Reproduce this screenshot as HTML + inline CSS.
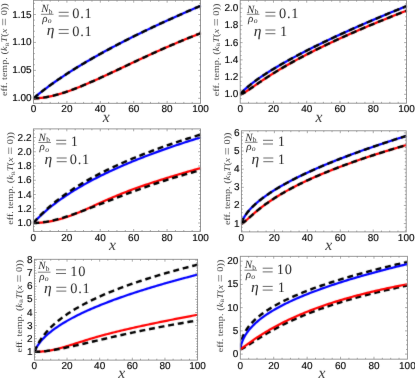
<!DOCTYPE html>
<html><head><meta charset="utf-8"><title>chart</title>
<style>html,body{margin:0;padding:0;background:#fff}svg{display:block}</style>
</head><body>
<svg width="415" height="378" viewBox="0 0 415 378">
<defs><filter id="softc" x="0" y="0" width="415" height="378" filterUnits="userSpaceOnUse" color-interpolation-filters="sRGB"><feConvolveMatrix order="3" kernelMatrix="0.0183 0.1353 0.0183 0.1353 1 0.1353 0.0183 0.1353 0.0183" edgeMode="duplicate"/></filter><filter id="softt" x="0" y="0" width="415" height="378" filterUnits="userSpaceOnUse" color-interpolation-filters="sRGB"><feConvolveMatrix order="3" kernelMatrix="0.0019 0.0439 0.0019 0.0439 1 0.0439 0.0019 0.0439 0.0019" edgeMode="duplicate"/></filter></defs>
<rect width="415" height="378" fill="#fff"/>
<g filter="url(#softc)">
<clipPath id="c1"><rect x="33.5" y="0.3" width="167.45" height="103"/></clipPath>
<g clip-path="url(#c1)" fill="none" stroke-linejoin="round">
<polyline points="33.50,98.30 33.83,98.02 34.17,97.73 34.50,97.45 34.84,97.17 35.17,96.89 35.50,96.61 35.84,96.33 36.17,96.06 36.51,95.78 36.84,95.51 37.68,94.83 39.07,93.70 40.46,92.60 41.85,91.50 43.24,90.43 44.64,89.36 46.03,88.31 47.42,87.27 48.81,86.24 50.20,85.23 51.60,84.22 52.99,83.23 54.38,82.25 55.77,81.27 57.17,80.31 58.56,79.35 59.95,78.41 61.34,77.47 62.73,76.54 64.13,75.62 65.52,74.71 66.91,73.80 68.30,72.90 69.69,72.01 71.09,71.13 72.48,70.25 73.87,69.38 75.26,68.51 76.65,67.65 78.05,66.80 79.44,65.95 80.83,65.11 82.22,64.28 83.62,63.45 85.01,62.62 86.40,61.80 87.79,60.99 89.18,60.18 90.58,59.37 91.97,58.57 93.36,57.78 94.75,56.99 96.14,56.20 97.54,55.42 98.93,54.64 100.32,53.87 101.71,53.10 103.10,52.33 104.50,51.57 105.89,50.82 107.28,50.06 108.67,49.31 110.06,48.57 111.46,47.83 112.85,47.09 114.24,46.35 115.63,45.62 117.03,44.89 118.42,44.17 119.81,43.44 121.20,42.72 122.59,42.01 123.99,41.30 125.38,40.59 126.77,39.88 128.16,39.18 129.55,38.48 130.95,37.78 132.34,37.09 133.73,36.39 135.12,35.70 136.51,35.02 137.91,34.33 139.30,33.65 140.69,32.97 142.08,32.30 143.47,31.63 144.87,30.95 146.26,30.29 147.65,29.62 149.04,28.96 150.44,28.29 151.83,27.64 153.22,26.98 154.61,26.33 156.00,25.67 157.40,25.02 158.79,24.38 160.18,23.73 161.57,23.09 162.96,22.45 164.36,21.81 165.75,21.17 167.14,20.53 168.53,19.90 169.92,19.27 171.32,18.64 172.71,18.01 174.10,17.39 175.49,16.77 176.88,16.14 178.28,15.52 179.67,14.91 181.06,14.29 182.45,13.68 183.84,13.07 185.24,12.45 186.63,11.85 188.02,11.24 189.41,10.63 190.81,10.03 192.20,9.43 193.59,8.83 194.98,8.23 196.37,7.63 197.77,7.04 199.16,6.44 200.55,5.85" stroke="#0000ff" stroke-width="2.2"/>
<polyline points="33.50,98.30 33.83,98.30 34.17,98.30 34.50,98.29 34.84,98.29 35.17,98.28 35.50,98.27 35.84,98.26 36.17,98.24 36.51,98.23 36.84,98.21 37.68,98.17 39.07,98.07 40.46,97.94 41.85,97.79 43.24,97.61 44.64,97.41 46.03,97.18 47.42,96.94 48.81,96.67 50.20,96.39 51.60,96.08 52.99,95.76 54.38,95.42 55.77,95.06 57.17,94.68 58.56,94.29 59.95,93.89 61.34,93.47 62.73,93.03 64.13,92.59 65.52,92.13 66.91,91.66 68.30,91.17 69.69,90.68 71.09,90.17 72.48,89.66 73.87,89.13 75.26,88.60 76.65,88.06 78.05,87.51 79.44,86.95 80.83,86.38 82.22,85.81 83.62,85.23 85.01,84.64 86.40,84.05 87.79,83.45 89.18,82.85 90.58,82.24 91.97,81.63 93.36,81.01 94.75,80.39 96.14,79.77 97.54,79.14 98.93,78.51 100.32,77.87 101.71,77.23 103.10,76.59 104.50,75.95 105.89,75.30 107.28,74.66 108.67,74.01 110.06,73.36 111.46,72.70 112.85,72.05 114.24,71.40 115.63,70.74 117.03,70.09 118.42,69.43 119.81,68.77 121.20,68.11 122.59,67.46 123.99,66.80 125.38,66.14 126.77,65.49 128.16,64.83 129.55,64.17 130.95,63.52 132.34,62.86 133.73,62.21 135.12,61.56 136.51,60.91 137.91,60.26 139.30,59.61 140.69,58.96 142.08,58.31 143.47,57.67 144.87,57.03 146.26,56.39 147.65,55.75 149.04,55.11 150.44,54.47 151.83,53.84 153.22,53.21 154.61,52.58 156.00,51.95 157.40,51.32 158.79,50.70 160.18,50.08 161.57,49.46 162.96,48.84 164.36,48.23 165.75,47.62 167.14,47.01 168.53,46.40 169.92,45.80 171.32,45.20 172.71,44.60 174.10,44.01 175.49,43.41 176.88,42.82 178.28,42.23 179.67,41.65 181.06,41.07 182.45,40.49 183.84,39.91 185.24,39.34 186.63,38.77 188.02,38.20 189.41,37.64 190.81,37.08 192.20,36.52 193.59,35.96 194.98,35.41 196.37,34.86 197.77,34.31 199.16,33.77 200.55,33.23" stroke="#ff0000" stroke-width="2.2"/>
<polyline points="33.50,98.30 33.83,98.02 34.17,97.73 34.50,97.45 34.84,97.17 35.17,96.89 35.50,96.61 35.84,96.33 36.17,96.06 36.51,95.78 36.84,95.51 37.68,94.83 39.07,93.70 40.46,92.60 41.85,91.50 43.24,90.43 44.64,89.36 46.03,88.31 47.42,87.27 48.81,86.24 50.20,85.23 51.60,84.22 52.99,83.23 54.38,82.25 55.77,81.27 57.17,80.31 58.56,79.35 59.95,78.41 61.34,77.47 62.73,76.54 64.13,75.62 65.52,74.71 66.91,73.80 68.30,72.90 69.69,72.01 71.09,71.13 72.48,70.25 73.87,69.38 75.26,68.51 76.65,67.65 78.05,66.80 79.44,65.95 80.83,65.11 82.22,64.28 83.62,63.45 85.01,62.62 86.40,61.80 87.79,60.99 89.18,60.18 90.58,59.37 91.97,58.57 93.36,57.78 94.75,56.99 96.14,56.20 97.54,55.42 98.93,54.64 100.32,53.87 101.71,53.10 103.10,52.33 104.50,51.57 105.89,50.82 107.28,50.06 108.67,49.31 110.06,48.57 111.46,47.83 112.85,47.09 114.24,46.35 115.63,45.62 117.03,44.89 118.42,44.17 119.81,43.44 121.20,42.72 122.59,42.01 123.99,41.30 125.38,40.59 126.77,39.88 128.16,39.18 129.55,38.48 130.95,37.78 132.34,37.09 133.73,36.39 135.12,35.70 136.51,35.02 137.91,34.33 139.30,33.65 140.69,32.97 142.08,32.30 143.47,31.63 144.87,30.95 146.26,30.29 147.65,29.62 149.04,28.96 150.44,28.29 151.83,27.64 153.22,26.98 154.61,26.33 156.00,25.67 157.40,25.02 158.79,24.38 160.18,23.73 161.57,23.09 162.96,22.45 164.36,21.81 165.75,21.17 167.14,20.53 168.53,19.90 169.92,19.27 171.32,18.64 172.71,18.01 174.10,17.39 175.49,16.77 176.88,16.14 178.28,15.52 179.67,14.91 181.06,14.29 182.45,13.68 183.84,13.07 185.24,12.45 186.63,11.85 188.02,11.24 189.41,10.63 190.81,10.03 192.20,9.43 193.59,8.83 194.98,8.23 196.37,7.63 197.77,7.04 199.16,6.44 200.55,5.85" stroke="#000" stroke-width="2.45" stroke-dasharray="5.9 3.85" stroke-dashoffset="0"/>
<polyline points="33.50,98.30 33.83,98.30 34.17,98.30 34.50,98.29 34.84,98.29 35.17,98.28 35.50,98.27 35.84,98.26 36.17,98.24 36.51,98.23 36.84,98.21 37.68,98.17 39.07,98.07 40.46,97.94 41.85,97.79 43.24,97.61 44.64,97.41 46.03,97.18 47.42,96.94 48.81,96.67 50.20,96.39 51.60,96.08 52.99,95.76 54.38,95.42 55.77,95.06 57.17,94.68 58.56,94.29 59.95,93.89 61.34,93.47 62.73,93.03 64.13,92.59 65.52,92.13 66.91,91.66 68.30,91.17 69.69,90.68 71.09,90.17 72.48,89.66 73.87,89.13 75.26,88.60 76.65,88.06 78.05,87.51 79.44,86.95 80.83,86.38 82.22,85.81 83.62,85.23 85.01,84.64 86.40,84.05 87.79,83.45 89.18,82.85 90.58,82.24 91.97,81.63 93.36,81.01 94.75,80.39 96.14,79.77 97.54,79.14 98.93,78.51 100.32,77.87 101.71,77.23 103.10,76.59 104.50,75.95 105.89,75.30 107.28,74.66 108.67,74.01 110.06,73.36 111.46,72.70 112.85,72.05 114.24,71.40 115.63,70.74 117.03,70.09 118.42,69.43 119.81,68.77 121.20,68.11 122.59,67.46 123.99,66.80 125.38,66.14 126.77,65.49 128.16,64.83 129.55,64.17 130.95,63.52 132.34,62.86 133.73,62.21 135.12,61.56 136.51,60.91 137.91,60.26 139.30,59.61 140.69,58.96 142.08,58.31 143.47,57.67 144.87,57.03 146.26,56.39 147.65,55.75 149.04,55.11 150.44,54.47 151.83,53.84 153.22,53.21 154.61,52.58 156.00,51.95 157.40,51.32 158.79,50.70 160.18,50.08 161.57,49.46 162.96,48.84 164.36,48.23 165.75,47.62 167.14,47.01 168.53,46.40 169.92,45.80 171.32,45.20 172.71,44.60 174.10,44.01 175.49,43.41 176.88,42.82 178.28,42.23 179.67,41.65 181.06,41.07 182.45,40.49 183.84,39.91 185.24,39.34 186.63,38.77 188.02,38.20 189.41,37.64 190.81,37.08 192.20,36.52 193.59,35.96 194.98,35.41 196.37,34.86 197.77,34.31 199.16,33.77 200.55,33.23" stroke="#000" stroke-width="2.45" stroke-dasharray="5.9 3.85" stroke-dashoffset="0"/>
</g>
<clipPath id="c2"><rect x="240.2" y="0.3" width="166.7" height="102.9"/></clipPath>
<g clip-path="url(#c2)" fill="none" stroke-linejoin="round">
<polyline points="240.20,94.30 240.53,93.90 240.87,93.52 241.20,93.14 241.53,92.77 241.86,92.41 242.20,92.06 242.53,91.72 242.86,91.38 243.19,91.04 243.53,90.71 244.36,89.91 245.74,88.63 247.13,87.41 248.51,86.24 249.90,85.10 251.29,83.99 252.67,82.92 254.06,81.87 255.44,80.85 256.83,79.84 258.22,78.86 259.60,77.89 260.99,76.94 262.37,76.00 263.76,75.08 265.14,74.17 266.53,73.27 267.92,72.39 269.30,71.51 270.69,70.65 272.07,69.79 273.46,68.94 274.85,68.11 276.23,67.28 277.62,66.46 279.00,65.64 280.39,64.84 281.77,64.04 283.16,63.24 284.55,62.46 285.93,61.68 287.32,60.90 288.70,60.13 290.09,59.37 291.48,58.61 292.86,57.86 294.25,57.11 295.63,56.37 297.02,55.63 298.40,54.90 299.79,54.17 301.18,53.45 302.56,52.73 303.95,52.01 305.33,51.30 306.72,50.59 308.11,49.88 309.49,49.18 310.88,48.49 312.26,47.79 313.65,47.10 315.03,46.42 316.42,45.73 317.81,45.05 319.19,44.37 320.58,43.70 321.96,43.03 323.35,42.36 324.74,41.70 326.12,41.03 327.51,40.37 328.89,39.72 330.28,39.06 331.66,38.41 333.05,37.76 334.44,37.12 335.82,36.47 337.21,35.83 338.59,35.19 339.98,34.55 341.37,33.92 342.75,33.29 344.14,32.66 345.52,32.03 346.91,31.40 348.29,30.78 349.68,30.16 351.07,29.54 352.45,28.92 353.84,28.30 355.22,27.69 356.61,27.08 358.00,26.47 359.38,25.86 360.77,25.26 362.15,24.65 363.54,24.05 364.93,23.45 366.31,22.85 367.70,22.25 369.08,21.66 370.47,21.06 371.85,20.47 373.24,19.88 374.63,19.29 376.01,18.70 377.40,18.12 378.78,17.53 380.17,16.95 381.55,16.37 382.94,15.79 384.33,15.21 385.71,14.64 387.10,14.06 388.48,13.49 389.87,12.92 391.26,12.34 392.64,11.77 394.03,11.21 395.41,10.64 396.80,10.07 398.19,9.51 399.57,8.95 400.96,8.39 402.34,7.82 403.73,7.27 405.11,6.71 406.50,6.15" stroke="#0000ff" stroke-width="2.2"/>
<polyline points="240.20,94.30 240.53,94.27 240.87,94.21 241.20,94.12 241.53,94.02 241.86,93.90 242.20,93.76 242.53,93.62 242.86,93.46 243.19,93.30 243.53,93.13 244.36,92.67 245.74,91.83 247.13,90.94 248.51,90.02 249.90,89.07 251.29,88.11 252.67,87.14 254.06,86.17 255.44,85.20 256.83,84.24 258.22,83.28 259.60,82.33 260.99,81.39 262.37,80.45 263.76,79.53 265.14,78.61 266.53,77.70 267.92,76.80 269.30,75.91 270.69,75.02 272.07,74.15 273.46,73.28 274.85,72.42 276.23,71.57 277.62,70.73 279.00,69.89 280.39,69.07 281.77,68.25 283.16,67.43 284.55,66.62 285.93,65.82 287.32,65.03 288.70,64.24 290.09,63.46 291.48,62.69 292.86,61.92 294.25,61.15 295.63,60.40 297.02,59.64 298.40,58.90 299.79,58.15 301.18,57.42 302.56,56.68 303.95,55.96 305.33,55.23 306.72,54.52 308.11,53.80 309.49,53.09 310.88,52.39 312.26,51.69 313.65,50.99 315.03,50.30 316.42,49.61 317.81,48.93 319.19,48.25 320.58,47.57 321.96,46.89 323.35,46.22 324.74,45.56 326.12,44.89 327.51,44.24 328.89,43.58 330.28,42.93 331.66,42.28 333.05,41.63 334.44,40.98 335.82,40.34 337.21,39.71 338.59,39.07 339.98,38.44 341.37,37.81 342.75,37.18 344.14,36.56 345.52,35.94 346.91,35.32 348.29,34.70 349.68,34.09 351.07,33.48 352.45,32.87 353.84,32.26 355.22,31.66 356.61,31.06 358.00,30.46 359.38,29.86 360.77,29.26 362.15,28.67 363.54,28.08 364.93,27.49 366.31,26.91 367.70,26.32 369.08,25.74 370.47,25.16 371.85,24.58 373.24,24.01 374.63,23.43 376.01,22.86 377.40,22.29 378.78,21.72 380.17,21.15 381.55,20.59 382.94,20.03 384.33,19.47 385.71,18.91 387.10,18.35 388.48,17.79 389.87,17.24 391.26,16.68 392.64,16.13 394.03,15.58 395.41,15.04 396.80,14.49 398.19,13.94 399.57,13.40 400.96,12.86 402.34,12.32 403.73,11.78 405.11,11.24 406.50,10.71" stroke="#ff0000" stroke-width="2.2"/>
<polyline points="240.20,94.30 240.53,93.90 240.87,93.52 241.20,93.14 241.53,92.77 241.86,92.41 242.20,92.06 242.53,91.72 242.86,91.38 243.19,91.04 243.53,90.71 244.36,89.91 245.74,88.63 247.13,87.41 248.51,86.24 249.90,85.10 251.29,83.99 252.67,82.92 254.06,81.87 255.44,80.85 256.83,79.84 258.22,78.86 259.60,77.89 260.99,76.94 262.37,76.00 263.76,75.08 265.14,74.17 266.53,73.27 267.92,72.39 269.30,71.51 270.69,70.65 272.07,69.79 273.46,68.94 274.85,68.11 276.23,67.28 277.62,66.46 279.00,65.64 280.39,64.84 281.77,64.04 283.16,63.24 284.55,62.46 285.93,61.68 287.32,60.90 288.70,60.13 290.09,59.37 291.48,58.61 292.86,57.86 294.25,57.11 295.63,56.37 297.02,55.63 298.40,54.90 299.79,54.17 301.18,53.45 302.56,52.73 303.95,52.01 305.33,51.30 306.72,50.59 308.11,49.88 309.49,49.18 310.88,48.49 312.26,47.79 313.65,47.10 315.03,46.42 316.42,45.73 317.81,45.05 319.19,44.37 320.58,43.70 321.96,43.03 323.35,42.36 324.74,41.70 326.12,41.03 327.51,40.37 328.89,39.72 330.28,39.06 331.66,38.41 333.05,37.76 334.44,37.12 335.82,36.47 337.21,35.83 338.59,35.19 339.98,34.55 341.37,33.92 342.75,33.29 344.14,32.66 345.52,32.03 346.91,31.40 348.29,30.78 349.68,30.16 351.07,29.54 352.45,28.92 353.84,28.30 355.22,27.69 356.61,27.08 358.00,26.47 359.38,25.86 360.77,25.26 362.15,24.65 363.54,24.05 364.93,23.45 366.31,22.85 367.70,22.25 369.08,21.66 370.47,21.06 371.85,20.47 373.24,19.88 374.63,19.29 376.01,18.70 377.40,18.12 378.78,17.53 380.17,16.95 381.55,16.37 382.94,15.79 384.33,15.21 385.71,14.64 387.10,14.06 388.48,13.49 389.87,12.92 391.26,12.34 392.64,11.77 394.03,11.21 395.41,10.64 396.80,10.07 398.19,9.51 399.57,8.95 400.96,8.39 402.34,7.82 403.73,7.27 405.11,6.71 406.50,6.15" stroke="#000" stroke-width="2.45" stroke-dasharray="5.9 3.85" stroke-dashoffset="0"/>
<polyline points="240.20,94.30 240.53,94.27 240.87,94.21 241.20,94.12 241.53,94.02 241.86,93.90 242.20,93.76 242.53,93.62 242.86,93.46 243.19,93.30 243.53,93.13 244.36,92.67 245.74,91.83 247.13,90.94 248.51,90.02 249.90,89.07 251.29,88.11 252.67,87.14 254.06,86.17 255.44,85.20 256.83,84.24 258.22,83.28 259.60,82.33 260.99,81.39 262.37,80.45 263.76,79.53 265.14,78.61 266.53,77.70 267.92,76.80 269.30,75.91 270.69,75.02 272.07,74.15 273.46,73.28 274.85,72.42 276.23,71.57 277.62,70.73 279.00,69.89 280.39,69.07 281.77,68.25 283.16,67.43 284.55,66.62 285.93,65.82 287.32,65.03 288.70,64.24 290.09,63.46 291.48,62.69 292.86,61.92 294.25,61.15 295.63,60.40 297.02,59.64 298.40,58.90 299.79,58.15 301.18,57.42 302.56,56.68 303.95,55.96 305.33,55.23 306.72,54.52 308.11,53.80 309.49,53.09 310.88,52.39 312.26,51.69 313.65,50.99 315.03,50.30 316.42,49.61 317.81,48.93 319.19,48.25 320.58,47.57 321.96,46.89 323.35,46.22 324.74,45.56 326.12,44.89 327.51,44.24 328.89,43.58 330.28,42.93 331.66,42.28 333.05,41.63 334.44,40.98 335.82,40.34 337.21,39.71 338.59,39.07 339.98,38.44 341.37,37.81 342.75,37.18 344.14,36.56 345.52,35.94 346.91,35.32 348.29,34.70 349.68,34.09 351.07,33.48 352.45,32.87 353.84,32.26 355.22,31.66 356.61,31.06 358.00,30.46 359.38,29.86 360.77,29.26 362.15,28.67 363.54,28.08 364.93,27.49 366.31,26.91 367.70,26.32 369.08,25.74 370.47,25.16 371.85,24.58 373.24,24.01 374.63,23.43 376.01,22.86 377.40,22.29 378.78,21.72 380.17,21.15 381.55,20.59 382.94,20.03 384.33,19.47 385.71,18.91 387.10,18.35 388.48,17.79 389.87,17.24 391.26,16.68 392.64,16.13 394.03,15.58 395.41,15.04 396.80,14.49 398.19,13.94 399.57,13.40 400.96,12.86 402.34,12.32 403.73,11.78 405.11,11.24 406.50,10.71" stroke="#000" stroke-width="2.45" stroke-dasharray="5.9 3.85" stroke-dashoffset="0"/>
</g>
<clipPath id="c3"><rect x="33.4" y="128.9" width="167.5" height="102.5"/></clipPath>
<g clip-path="url(#c3)" fill="none" stroke-linejoin="round">
<polyline points="33.40,223.00 33.73,222.64 34.07,222.28 34.40,221.92 34.74,221.57 35.07,221.21 35.41,220.86 35.74,220.52 36.07,220.17 36.41,219.83 36.74,219.49 37.58,218.64 38.97,217.27 40.36,215.93 41.75,214.62 43.15,213.35 44.54,212.10 45.93,210.88 47.33,209.69 48.72,208.52 50.11,207.38 51.50,206.26 52.89,205.16 54.29,204.07 55.68,203.01 57.07,201.97 58.47,200.95 59.86,199.94 61.25,198.95 62.64,197.98 64.03,197.02 65.43,196.07 66.82,195.14 68.21,194.22 69.61,193.32 71.00,192.43 72.39,191.55 73.78,190.68 75.17,189.83 76.57,188.98 77.96,188.15 79.35,187.32 80.75,186.51 82.14,185.71 83.53,184.91 84.92,184.13 86.31,183.35 87.71,182.58 89.10,181.82 90.49,181.07 91.88,180.33 93.28,179.60 94.67,178.87 96.06,178.15 97.46,177.44 98.85,176.73 100.24,176.04 101.63,175.34 103.03,174.66 104.42,173.98 105.81,173.31 107.20,172.64 108.59,171.98 109.99,171.33 111.38,170.68 112.77,170.04 114.16,169.40 115.56,168.77 116.95,168.14 118.34,167.52 119.74,166.91 121.13,166.30 122.52,165.69 123.91,165.09 125.31,164.49 126.70,163.90 128.09,163.31 129.48,162.73 130.88,162.15 132.27,161.58 133.66,161.00 135.05,160.44 136.45,159.88 137.84,159.32 139.23,158.76 140.62,158.21 142.02,157.67 143.41,157.12 144.80,156.59 146.19,156.05 147.59,155.52 148.98,154.99 150.37,154.46 151.76,153.94 153.16,153.42 154.55,152.91 155.94,152.40 157.33,151.89 158.72,151.38 160.12,150.88 161.51,150.38 162.90,149.88 164.30,149.39 165.69,148.90 167.08,148.41 168.47,147.93 169.87,147.44 171.26,146.96 172.65,146.49 174.04,146.01 175.44,145.54 176.83,145.07 178.22,144.61 179.61,144.14 181.01,143.68 182.40,143.22 183.79,142.77 185.18,142.31 186.58,141.86 187.97,141.41 189.36,140.96 190.75,140.52 192.15,140.08 193.54,139.64 194.93,139.20 196.32,138.76 197.72,138.33 199.11,137.90 200.50,137.47" stroke="#0000ff" stroke-width="2.2"/>
<polyline points="33.40,223.00 33.73,223.00 34.07,223.00 34.40,222.99 34.74,222.99 35.07,222.98 35.41,222.97 35.74,222.96 36.07,222.95 36.41,222.94 36.74,222.93 37.58,222.89 38.97,222.81 40.36,222.70 41.75,222.58 43.15,222.43 44.54,222.27 45.93,222.08 47.33,221.87 48.72,221.65 50.11,221.40 51.50,221.13 52.89,220.85 54.29,220.54 55.68,220.22 57.07,219.88 58.47,219.52 59.86,219.14 61.25,218.74 62.64,218.33 64.03,217.90 65.43,217.45 66.82,216.99 68.21,216.51 69.61,216.01 71.00,215.50 72.39,214.98 73.78,214.45 75.17,213.90 76.57,213.34 77.96,212.76 79.35,212.18 80.75,211.59 82.14,210.99 83.53,210.38 84.92,209.77 86.31,209.15 87.71,208.53 89.10,207.90 90.49,207.27 91.88,206.63 93.28,206.00 94.67,205.36 96.06,204.73 97.46,204.09 98.85,203.46 100.24,202.83 101.63,202.20 103.03,201.57 104.42,200.95 105.81,200.33 107.20,199.72 108.59,199.11 109.99,198.51 111.38,197.91 112.77,197.32 114.16,196.73 115.56,196.14 116.95,195.57 118.34,195.00 119.74,194.43 121.13,193.87 122.52,193.32 123.91,192.77 125.31,192.22 126.70,191.69 128.09,191.15 129.48,190.63 130.88,190.10 132.27,189.59 133.66,189.07 135.05,188.57 136.45,188.06 137.84,187.56 139.23,187.07 140.62,186.58 142.02,186.09 143.41,185.61 144.80,185.13 146.19,184.66 147.59,184.19 148.98,183.72 150.37,183.26 151.76,182.80 153.16,182.34 154.55,181.88 155.94,181.43 157.33,180.98 158.72,180.54 160.12,180.10 161.51,179.65 162.90,179.22 164.30,178.78 165.69,178.35 167.08,177.92 168.47,177.49 169.87,177.06 171.26,176.63 172.65,176.21 174.04,175.79 175.44,175.37 176.83,174.95 178.22,174.54 179.61,174.12 181.01,173.71 182.40,173.30 183.79,172.89 185.18,172.48 186.58,172.08 187.97,171.67 189.36,171.27 190.75,170.87 192.15,170.47 193.54,170.07 194.93,169.67 196.32,169.27 197.72,168.88 199.11,168.48 200.50,168.09" stroke="#ff0000" stroke-width="2.2"/>
<polyline points="33.40,223.00 33.73,222.61 34.07,222.22 34.40,221.83 34.74,221.44 35.07,221.06 35.41,220.68 35.74,220.31 36.07,219.93 36.41,219.56 36.74,219.19 37.58,218.28 38.97,216.80 40.36,215.36 41.75,213.96 43.15,212.59 44.54,211.25 45.93,209.95 47.33,208.67 48.72,207.42 50.11,206.21 51.50,205.01 52.89,203.84 54.29,202.70 55.68,201.57 57.07,200.47 58.47,199.38 59.86,198.32 61.25,197.28 62.64,196.25 64.03,195.24 65.43,194.25 66.82,193.27 68.21,192.31 69.61,191.36 71.00,190.43 72.39,189.51 73.78,188.60 75.17,187.71 76.57,186.83 77.96,185.96 79.35,185.10 80.75,184.26 82.14,183.42 83.53,182.60 84.92,181.78 86.31,180.98 87.71,180.18 89.10,179.40 90.49,178.62 91.88,177.86 93.28,177.10 94.67,176.35 96.06,175.61 97.46,174.88 98.85,174.15 100.24,173.43 101.63,172.72 103.03,172.02 104.42,171.33 105.81,170.64 107.20,169.96 108.59,169.28 109.99,168.61 111.38,167.95 112.77,167.29 114.16,166.64 115.56,166.00 116.95,165.36 118.34,164.73 119.74,164.10 121.13,163.48 122.52,162.87 123.91,162.25 125.31,161.65 126.70,161.05 128.09,160.45 129.48,159.86 130.88,159.28 132.27,158.69 133.66,158.12 135.05,157.54 136.45,156.98 137.84,156.41 139.23,155.85 140.62,155.30 142.02,154.75 143.41,154.20 144.80,153.66 146.19,153.12 147.59,152.58 148.98,152.05 150.37,151.52 151.76,151.00 153.16,150.48 154.55,149.96 155.94,149.45 157.33,148.94 158.72,148.43 160.12,147.93 161.51,147.43 162.90,146.93 164.30,146.44 165.69,145.95 167.08,145.46 168.47,144.98 169.87,144.50 171.26,144.02 172.65,143.54 174.04,143.07 175.44,142.60 176.83,142.13 178.22,141.67 179.61,141.21 181.01,140.75 182.40,140.29 183.79,139.84 185.18,139.39 186.58,138.94 187.97,138.50 189.36,138.05 190.75,137.61 192.15,137.17 193.54,136.74 194.93,136.30 196.32,135.87 197.72,135.44 199.11,135.01 200.50,134.59" stroke="#000" stroke-width="2.45" stroke-dasharray="5.9 3.85" stroke-dashoffset="0"/>
<polyline points="33.40,223.00 33.73,223.00 34.07,223.00 34.40,222.99 34.74,222.99 35.07,222.98 35.41,222.97 35.74,222.96 36.07,222.94 36.41,222.93 36.74,222.91 37.58,222.86 38.97,222.76 40.36,222.63 41.75,222.47 43.15,222.29 44.54,222.08 45.93,221.86 47.33,221.61 48.72,221.35 50.11,221.06 51.50,220.76 52.89,220.44 54.29,220.10 55.68,219.75 57.07,219.39 58.47,219.01 59.86,218.62 61.25,218.21 62.64,217.80 64.03,217.37 65.43,216.94 66.82,216.49 68.21,216.04 69.61,215.58 71.00,215.11 72.39,214.63 73.78,214.14 75.17,213.65 76.57,213.16 77.96,212.66 79.35,212.15 80.75,211.64 82.14,211.12 83.53,210.60 84.92,210.08 86.31,209.55 87.71,209.02 89.10,208.49 90.49,207.95 91.88,207.41 93.28,206.88 94.67,206.34 96.06,205.79 97.46,205.25 98.85,204.71 100.24,204.16 101.63,203.62 103.03,203.07 104.42,202.53 105.81,201.98 107.20,201.44 108.59,200.90 109.99,200.35 111.38,199.81 112.77,199.27 114.16,198.73 115.56,198.19 116.95,197.65 118.34,197.12 119.74,196.58 121.13,196.05 122.52,195.52 123.91,194.99 125.31,194.46 126.70,193.94 128.09,193.41 129.48,192.89 130.88,192.37 132.27,191.86 133.66,191.34 135.05,190.83 136.45,190.32 137.84,189.82 139.23,189.31 140.62,188.81 142.02,188.32 143.41,187.82 144.80,187.33 146.19,186.84 147.59,186.35 148.98,185.87 150.37,185.39 151.76,184.91 153.16,184.44 154.55,183.96 155.94,183.50 157.33,183.03 158.72,182.57 160.12,182.11 161.51,181.65 162.90,181.20 164.30,180.75 165.69,180.31 167.08,179.86 168.47,179.42 169.87,178.99 171.26,178.55 172.65,178.12 174.04,177.70 175.44,177.27 176.83,176.85 178.22,176.44 179.61,176.02 181.01,175.61 182.40,175.21 183.79,174.80 185.18,174.40 186.58,174.00 187.97,173.61 189.36,173.22 190.75,172.83 192.15,172.45 193.54,172.06 194.93,171.69 196.32,171.31 197.72,170.94 199.11,170.57 200.50,170.21" stroke="#000" stroke-width="2.45" stroke-dasharray="5.9 3.85" stroke-dashoffset="0"/>
</g>
<clipPath id="c4"><rect x="241.4" y="130.8" width="165.2" height="101.1"/></clipPath>
<g clip-path="url(#c4)" fill="none" stroke-linejoin="round">
<polyline points="241.40,223.60 241.73,222.48 242.06,221.54 242.39,220.71 242.72,219.95 243.05,219.25 243.38,218.60 243.71,217.98 244.04,217.39 244.37,216.83 244.70,216.29 245.52,215.02 246.89,213.11 248.27,211.38 249.64,209.79 251.01,208.30 252.39,206.90 253.76,205.56 255.13,204.29 256.51,203.07 257.88,201.90 259.25,200.77 260.63,199.67 262.00,198.61 263.37,197.58 264.75,196.57 266.12,195.59 267.49,194.63 268.87,193.69 270.24,192.78 271.61,191.88 272.99,191.00 274.36,190.13 275.73,189.28 277.11,188.45 278.48,187.62 279.85,186.82 281.23,186.02 282.60,185.23 283.97,184.46 285.35,183.70 286.72,182.95 288.09,182.20 289.47,181.47 290.84,180.75 292.21,180.03 293.59,179.32 294.96,178.62 296.33,177.93 297.71,177.25 299.08,176.57 300.45,175.90 301.83,175.23 303.20,174.58 304.57,173.93 305.95,173.28 307.32,172.64 308.69,172.01 310.07,171.38 311.44,170.76 312.81,170.14 314.19,169.53 315.56,168.92 316.93,168.32 318.31,167.73 319.68,167.13 321.05,166.54 322.43,165.96 323.80,165.38 325.17,164.81 326.55,164.23 327.92,163.67 329.29,163.10 330.67,162.54 332.04,161.99 333.41,161.44 334.79,160.89 336.16,160.34 337.53,159.80 338.91,159.26 340.28,158.73 341.65,158.19 343.03,157.67 344.40,157.14 345.77,156.62 347.15,156.10 348.52,155.58 349.89,155.07 351.27,154.56 352.64,154.05 354.01,153.54 355.39,153.04 356.76,152.54 358.13,152.04 359.51,151.55 360.88,151.05 362.25,150.56 363.63,150.07 365.00,149.59 366.37,149.11 367.75,148.62 369.12,148.15 370.49,147.67 371.87,147.20 373.24,146.72 374.61,146.25 375.99,145.79 377.36,145.32 378.73,144.86 380.11,144.39 381.48,143.93 382.85,143.48 384.23,143.02 385.60,142.57 386.97,142.12 388.35,141.67 389.72,141.22 391.09,140.77 392.47,140.33 393.84,139.88 395.21,139.44 396.59,139.00 397.96,138.56 399.33,138.13 400.71,137.69 402.08,137.26 403.45,136.83 404.83,136.40 406.20,135.97" stroke="#0000ff" stroke-width="2.2"/>
<polyline points="241.40,223.60 241.73,223.53 242.06,223.40 242.39,223.24 242.72,223.05 243.05,222.84 243.38,222.61 243.71,222.38 244.04,222.13 244.37,221.87 244.70,221.61 245.52,220.92 246.89,219.73 248.27,218.50 249.64,217.27 251.01,216.04 252.39,214.82 253.76,213.63 255.13,212.45 256.51,211.30 257.88,210.17 259.25,209.06 260.63,207.98 262.00,206.92 263.37,205.88 264.75,204.86 266.12,203.86 267.49,202.88 268.87,201.92 270.24,200.98 271.61,200.06 272.99,199.16 274.36,198.27 275.73,197.39 277.11,196.53 278.48,195.69 279.85,194.85 281.23,194.04 282.60,193.23 283.97,192.44 285.35,191.65 286.72,190.88 288.09,190.12 289.47,189.37 290.84,188.63 292.21,187.90 293.59,187.18 294.96,186.47 296.33,185.77 297.71,185.08 299.08,184.39 300.45,183.72 301.83,183.05 303.20,182.38 304.57,181.73 305.95,181.08 307.32,180.44 308.69,179.81 310.07,179.18 311.44,178.56 312.81,177.94 314.19,177.33 315.56,176.73 316.93,176.13 318.31,175.54 319.68,174.95 321.05,174.37 322.43,173.79 323.80,173.22 325.17,172.66 326.55,172.09 327.92,171.54 329.29,170.98 330.67,170.44 332.04,169.89 333.41,169.35 334.79,168.82 336.16,168.29 337.53,167.76 338.91,167.23 340.28,166.71 341.65,166.20 343.03,165.69 344.40,165.18 345.77,164.67 347.15,164.17 348.52,163.67 349.89,163.18 351.27,162.68 352.64,162.19 354.01,161.71 355.39,161.23 356.76,160.75 358.13,160.27 359.51,159.80 360.88,159.32 362.25,158.86 363.63,158.39 365.00,157.93 366.37,157.47 367.75,157.01 369.12,156.56 370.49,156.10 371.87,155.65 373.24,155.21 374.61,154.76 375.99,154.32 377.36,153.88 378.73,153.44 380.11,153.00 381.48,152.57 382.85,152.14 384.23,151.71 385.60,151.28 386.97,150.86 388.35,150.44 389.72,150.02 391.09,149.60 392.47,149.18 393.84,148.77 395.21,148.35 396.59,147.94 397.96,147.53 399.33,147.13 400.71,146.72 402.08,146.32 403.45,145.91 404.83,145.51 406.20,145.12" stroke="#ff0000" stroke-width="2.2"/>
<polyline points="241.40,223.60 241.73,222.48 242.06,221.54 242.39,220.71 242.72,219.95 243.05,219.25 243.38,218.60 243.71,217.98 244.04,217.39 244.37,216.83 244.70,216.29 245.52,215.02 246.89,213.11 248.27,211.38 249.64,209.79 251.01,208.30 252.39,206.90 253.76,205.56 255.13,204.29 256.51,203.07 257.88,201.90 259.25,200.77 260.63,199.67 262.00,198.61 263.37,197.58 264.75,196.57 266.12,195.59 267.49,194.63 268.87,193.69 270.24,192.78 271.61,191.88 272.99,191.00 274.36,190.13 275.73,189.28 277.11,188.45 278.48,187.62 279.85,186.82 281.23,186.02 282.60,185.23 283.97,184.46 285.35,183.70 286.72,182.95 288.09,182.20 289.47,181.47 290.84,180.75 292.21,180.03 293.59,179.32 294.96,178.62 296.33,177.93 297.71,177.25 299.08,176.57 300.45,175.90 301.83,175.23 303.20,174.58 304.57,173.93 305.95,173.28 307.32,172.64 308.69,172.01 310.07,171.38 311.44,170.76 312.81,170.14 314.19,169.53 315.56,168.92 316.93,168.32 318.31,167.73 319.68,167.13 321.05,166.54 322.43,165.96 323.80,165.38 325.17,164.81 326.55,164.23 327.92,163.67 329.29,163.10 330.67,162.54 332.04,161.99 333.41,161.44 334.79,160.89 336.16,160.34 337.53,159.80 338.91,159.26 340.28,158.73 341.65,158.19 343.03,157.67 344.40,157.14 345.77,156.62 347.15,156.10 348.52,155.58 349.89,155.07 351.27,154.56 352.64,154.05 354.01,153.54 355.39,153.04 356.76,152.54 358.13,152.04 359.51,151.55 360.88,151.05 362.25,150.56 363.63,150.07 365.00,149.59 366.37,149.11 367.75,148.62 369.12,148.15 370.49,147.67 371.87,147.20 373.24,146.72 374.61,146.25 375.99,145.79 377.36,145.32 378.73,144.86 380.11,144.39 381.48,143.93 382.85,143.48 384.23,143.02 385.60,142.57 386.97,142.12 388.35,141.67 389.72,141.22 391.09,140.77 392.47,140.33 393.84,139.88 395.21,139.44 396.59,139.00 397.96,138.56 399.33,138.13 400.71,137.69 402.08,137.26 403.45,136.83 404.83,136.40 406.20,135.97" stroke="#000" stroke-width="2.45" stroke-dasharray="5.9 3.85" stroke-dashoffset="0"/>
<polyline points="241.40,223.60 241.73,223.53 242.06,223.40 242.39,223.24 242.72,223.05 243.05,222.84 243.38,222.61 243.71,222.38 244.04,222.13 244.37,221.87 244.70,221.61 245.52,220.92 246.89,219.73 248.27,218.50 249.64,217.27 251.01,216.04 252.39,214.82 253.76,213.63 255.13,212.45 256.51,211.30 257.88,210.17 259.25,209.06 260.63,207.98 262.00,206.92 263.37,205.88 264.75,204.86 266.12,203.86 267.49,202.88 268.87,201.92 270.24,200.98 271.61,200.06 272.99,199.16 274.36,198.27 275.73,197.39 277.11,196.53 278.48,195.69 279.85,194.85 281.23,194.04 282.60,193.23 283.97,192.44 285.35,191.65 286.72,190.88 288.09,190.12 289.47,189.37 290.84,188.63 292.21,187.90 293.59,187.18 294.96,186.47 296.33,185.77 297.71,185.08 299.08,184.39 300.45,183.72 301.83,183.05 303.20,182.38 304.57,181.73 305.95,181.08 307.32,180.44 308.69,179.81 310.07,179.18 311.44,178.56 312.81,177.94 314.19,177.33 315.56,176.73 316.93,176.13 318.31,175.54 319.68,174.95 321.05,174.37 322.43,173.79 323.80,173.22 325.17,172.66 326.55,172.09 327.92,171.54 329.29,170.98 330.67,170.44 332.04,169.89 333.41,169.35 334.79,168.82 336.16,168.29 337.53,167.76 338.91,167.23 340.28,166.71 341.65,166.20 343.03,165.69 344.40,165.18 345.77,164.67 347.15,164.17 348.52,163.67 349.89,163.18 351.27,162.68 352.64,162.19 354.01,161.71 355.39,161.23 356.76,160.75 358.13,160.27 359.51,159.80 360.88,159.32 362.25,158.86 363.63,158.39 365.00,157.93 366.37,157.47 367.75,157.01 369.12,156.56 370.49,156.10 371.87,155.65 373.24,155.21 374.61,154.76 375.99,154.32 377.36,153.88 378.73,153.44 380.11,153.00 381.48,152.57 382.85,152.14 384.23,151.71 385.60,151.28 386.97,150.86 388.35,150.44 389.72,150.02 391.09,149.60 392.47,149.18 393.84,148.77 395.21,148.35 396.59,147.94 397.96,147.53 399.33,147.13 400.71,146.72 402.08,146.32 403.45,145.91 404.83,145.51 406.20,145.12" stroke="#000" stroke-width="2.45" stroke-dasharray="5.9 3.85" stroke-dashoffset="0"/>
</g>
<clipPath id="c5"><rect x="34.4" y="259.3" width="163.6" height="100.8"/></clipPath>
<g clip-path="url(#c5)" fill="none" stroke-linejoin="round">
<polyline points="34.40,351.80 34.73,350.99 35.05,350.25 35.38,349.55 35.71,348.89 36.03,348.26 36.36,347.67 36.68,347.10 37.01,346.55 37.34,346.03 37.66,345.52 38.48,344.31 39.84,342.48 41.20,340.82 42.56,339.29 43.92,337.87 45.28,336.52 46.64,335.26 48.00,334.05 49.36,332.89 50.72,331.79 52.08,330.72 53.44,329.69 54.80,328.70 56.16,327.74 57.52,326.80 58.88,325.90 60.24,325.01 61.60,324.15 62.96,323.31 64.32,322.49 65.68,321.68 67.04,320.89 68.40,320.12 69.76,319.36 71.12,318.62 72.48,317.89 73.84,317.18 75.20,316.47 76.56,315.78 77.92,315.10 79.28,314.43 80.64,313.76 82.00,313.11 83.36,312.47 84.72,311.84 86.08,311.21 87.44,310.59 88.80,309.98 90.16,309.38 91.52,308.79 92.88,308.20 94.24,307.62 95.60,307.04 96.96,306.48 98.32,305.92 99.68,305.36 101.04,304.81 102.40,304.27 103.76,303.73 105.12,303.19 106.48,302.66 107.84,302.14 109.20,301.62 110.56,301.11 111.92,300.60 113.28,300.09 114.64,299.59 116.00,299.10 117.36,298.61 118.72,298.12 120.08,297.63 121.44,297.15 122.80,296.68 124.16,296.21 125.52,295.74 126.88,295.27 128.24,294.81 129.60,294.35 130.96,293.89 132.32,293.44 133.68,292.99 135.04,292.55 136.40,292.11 137.76,291.67 139.12,291.23 140.48,290.79 141.84,290.36 143.20,289.94 144.56,289.51 145.92,289.09 147.28,288.67 148.64,288.25 150.00,287.83 151.36,287.42 152.72,287.01 154.08,286.60 155.44,286.20 156.80,285.79 158.16,285.39 159.52,284.99 160.88,284.60 162.24,284.20 163.60,283.81 164.96,283.42 166.32,283.03 167.68,282.64 169.04,282.26 170.40,281.88 171.76,281.50 173.12,281.12 174.48,280.74 175.84,280.37 177.20,280.00 178.56,279.62 179.92,279.26 181.28,278.89 182.64,278.52 184.00,278.16 185.36,277.80 186.72,277.44 188.08,277.08 189.44,276.72 190.80,276.36 192.16,276.01 193.52,275.66 194.88,275.30 196.24,274.96 197.60,274.61" stroke="#0000ff" stroke-width="2.2"/>
<polyline points="34.40,351.85 34.73,351.85 35.05,351.85 35.38,351.84 35.71,351.84 36.03,351.83 36.36,351.83 36.68,351.82 37.01,351.81 37.34,351.80 37.66,351.79 38.48,351.75 39.84,351.68 41.20,351.58 42.56,351.46 43.92,351.32 45.28,351.16 46.64,350.98 48.00,350.77 49.36,350.55 50.72,350.31 52.08,350.05 53.44,349.77 54.80,349.47 56.16,349.16 57.52,348.83 58.88,348.48 60.24,348.12 61.60,347.75 62.96,347.37 64.32,346.97 65.68,346.57 67.04,346.16 68.40,345.74 69.76,345.32 71.12,344.90 72.48,344.47 73.84,344.03 75.20,343.60 76.56,343.16 77.92,342.73 79.28,342.29 80.64,341.86 82.00,341.43 83.36,341.00 84.72,340.58 86.08,340.16 87.44,339.74 88.80,339.32 90.16,338.91 91.52,338.51 92.88,338.10 94.24,337.71 95.60,337.31 96.96,336.92 98.32,336.54 99.68,336.15 101.04,335.78 102.40,335.40 103.76,335.03 105.12,334.67 106.48,334.31 107.84,333.95 109.20,333.59 110.56,333.24 111.92,332.89 113.28,332.55 114.64,332.21 116.00,331.87 117.36,331.54 118.72,331.20 120.08,330.87 121.44,330.55 122.80,330.22 124.16,329.90 125.52,329.58 126.88,329.26 128.24,328.95 129.60,328.64 130.96,328.33 132.32,328.02 133.68,327.71 135.04,327.41 136.40,327.10 137.76,326.80 139.12,326.50 140.48,326.21 141.84,325.91 143.20,325.62 144.56,325.32 145.92,325.03 147.28,324.74 148.64,324.46 150.00,324.17 151.36,323.88 152.72,323.60 154.08,323.32 155.44,323.03 156.80,322.75 158.16,322.47 159.52,322.20 160.88,321.92 162.24,321.64 163.60,321.37 164.96,321.09 166.32,320.82 167.68,320.55 169.04,320.28 170.40,320.01 171.76,319.74 173.12,319.47 174.48,319.20 175.84,318.93 177.20,318.67 178.56,318.40 179.92,318.14 181.28,317.87 182.64,317.61 184.00,317.35 185.36,317.09 186.72,316.83 188.08,316.57 189.44,316.31 190.80,316.05 192.16,315.79 193.52,315.53 194.88,315.28 196.24,315.02 197.60,314.76" stroke="#ff0000" stroke-width="2.2"/>
<polyline points="34.40,351.80 34.73,350.97 35.05,350.17 35.38,349.40 35.71,348.66 36.03,347.94 36.36,347.25 36.68,346.58 37.01,345.92 37.34,345.29 37.66,344.67 38.48,343.20 39.84,340.92 41.20,338.84 42.56,336.91 43.92,335.11 45.28,333.42 46.64,331.82 48.00,330.31 49.36,328.86 50.72,327.48 52.08,326.16 53.44,324.89 54.80,323.67 56.16,322.49 57.52,321.35 58.88,320.25 60.24,319.18 61.60,318.14 62.96,317.13 64.32,316.14 65.68,315.18 67.04,314.25 68.40,313.34 69.76,312.45 71.12,311.58 72.48,310.72 73.84,309.89 75.20,309.07 76.56,308.27 77.92,307.48 79.28,306.71 80.64,305.95 82.00,305.21 83.36,304.47 84.72,303.75 86.08,303.05 87.44,302.35 88.80,301.66 90.16,300.99 91.52,300.32 92.88,299.67 94.24,299.02 95.60,298.38 96.96,297.75 98.32,297.13 99.68,296.52 101.04,295.91 102.40,295.32 103.76,294.73 105.12,294.15 106.48,293.57 107.84,293.00 109.20,292.44 110.56,291.88 111.92,291.33 113.28,290.79 114.64,290.25 116.00,289.72 117.36,289.19 118.72,288.67 120.08,288.16 121.44,287.65 122.80,287.14 124.16,286.64 125.52,286.14 126.88,285.65 128.24,285.17 129.60,284.68 130.96,284.21 132.32,283.73 133.68,283.26 135.04,282.80 136.40,282.33 137.76,281.88 139.12,281.42 140.48,280.97 141.84,280.53 143.20,280.08 144.56,279.65 145.92,279.21 147.28,278.78 148.64,278.35 150.00,277.92 151.36,277.50 152.72,277.08 154.08,276.66 155.44,276.25 156.80,275.84 158.16,275.43 159.52,275.03 160.88,274.63 162.24,274.23 163.60,273.83 164.96,273.44 166.32,273.05 167.68,272.66 169.04,272.27 170.40,271.89 171.76,271.51 173.12,271.13 174.48,270.75 175.84,270.38 177.20,270.01 178.56,269.64 179.92,269.27 181.28,268.91 182.64,268.54 184.00,268.18 185.36,267.82 186.72,267.47 188.08,267.11 189.44,266.76 190.80,266.41 192.16,266.06 193.52,265.72 194.88,265.37 196.24,265.03 197.60,264.69" stroke="#000" stroke-width="2.45" stroke-dasharray="5.9 3.85" stroke-dashoffset="0"/>
<polyline points="34.40,351.85 34.73,351.85 35.05,351.85 35.38,351.84 35.71,351.84 36.03,351.83 36.36,351.82 36.68,351.82 37.01,351.81 37.34,351.79 37.66,351.78 38.48,351.74 39.84,351.67 41.20,351.57 42.56,351.45 43.92,351.32 45.28,351.17 46.64,351.01 48.00,350.84 49.36,350.65 50.72,350.45 52.08,350.24 53.44,350.02 54.80,349.79 56.16,349.56 57.52,349.31 58.88,349.06 60.24,348.80 61.60,348.54 62.96,348.27 64.32,347.99 65.68,347.71 67.04,347.42 68.40,347.13 69.76,346.84 71.12,346.54 72.48,346.24 73.84,345.94 75.20,345.64 76.56,345.33 77.92,345.02 79.28,344.71 80.64,344.40 82.00,344.09 83.36,343.77 84.72,343.45 86.08,343.14 87.44,342.82 88.80,342.50 90.16,342.19 91.52,341.87 92.88,341.55 94.24,341.23 95.60,340.91 96.96,340.60 98.32,340.28 99.68,339.96 101.04,339.65 102.40,339.33 103.76,339.01 105.12,338.70 106.48,338.39 107.84,338.07 109.20,337.76 110.56,337.45 111.92,337.14 113.28,336.83 114.64,336.52 116.00,336.22 117.36,335.91 118.72,335.61 120.08,335.30 121.44,335.00 122.80,334.70 124.16,334.40 125.52,334.11 126.88,333.81 128.24,333.52 129.60,333.22 130.96,332.93 132.32,332.64 133.68,332.35 135.04,332.06 136.40,331.78 137.76,331.49 139.12,331.21 140.48,330.93 141.84,330.65 143.20,330.37 144.56,330.09 145.92,329.82 147.28,329.54 148.64,329.27 150.00,329.00 151.36,328.73 152.72,328.46 154.08,328.19 155.44,327.93 156.80,327.67 158.16,327.40 159.52,327.14 160.88,326.88 162.24,326.63 163.60,326.37 164.96,326.12 166.32,325.86 167.68,325.61 169.04,325.36 170.40,325.12 171.76,324.87 173.12,324.62 174.48,324.38 175.84,324.14 177.20,323.90 178.56,323.66 179.92,323.42 181.28,323.18 182.64,322.95 184.00,322.71 185.36,322.48 186.72,322.25 188.08,322.02 189.44,321.79 190.80,321.57 192.16,321.34 193.52,321.12 194.88,320.89 196.24,320.67 197.60,320.45" stroke="#000" stroke-width="2.45" stroke-dasharray="5.9 3.85" stroke-dashoffset="0"/>
</g>
<clipPath id="c6"><rect x="240.3" y="256.3" width="167.5" height="102.85"/></clipPath>
<g clip-path="url(#c6)" fill="none" stroke-linejoin="round">
<polyline points="240.30,349.45 240.63,345.30 240.97,343.17 241.30,341.57 241.64,340.25 241.97,339.10 242.31,338.07 242.64,337.14 242.97,336.28 243.31,335.48 243.64,334.73 244.48,333.03 245.87,330.58 247.26,328.46 248.66,326.58 250.05,324.86 251.44,323.29 252.83,321.82 254.23,320.45 255.62,319.15 257.01,317.92 258.40,316.75 259.80,315.63 261.19,314.56 262.58,313.52 263.97,312.52 265.37,311.56 266.76,310.62 268.15,309.72 269.54,308.84 270.94,307.98 272.33,307.15 273.72,306.34 275.11,305.54 276.50,304.77 277.90,304.01 279.29,303.27 280.68,302.54 282.07,301.83 283.47,301.13 284.86,300.44 286.25,299.77 287.64,299.10 289.04,298.45 290.43,297.81 291.82,297.18 293.22,296.56 294.61,295.95 296.00,295.35 297.39,294.76 298.78,294.17 300.18,293.60 301.57,293.03 302.96,292.47 304.36,291.91 305.75,291.36 307.14,290.82 308.53,290.29 309.93,289.76 311.32,289.24 312.71,288.72 314.10,288.21 315.50,287.71 316.89,287.21 318.28,286.71 319.67,286.22 321.06,285.74 322.46,285.26 323.85,284.79 325.24,284.32 326.63,283.85 328.03,283.39 329.42,282.93 330.81,282.48 332.20,282.03 333.60,281.59 334.99,281.15 336.38,280.71 337.77,280.27 339.17,279.84 340.56,279.42 341.95,278.99 343.35,278.57 344.74,278.16 346.13,277.74 347.52,277.33 348.91,276.93 350.31,276.52 351.70,276.12 353.09,275.72 354.49,275.33 355.88,274.94 357.27,274.55 358.66,274.16 360.06,273.77 361.45,273.39 362.84,273.01 364.23,272.64 365.62,272.26 367.02,271.89 368.41,271.52 369.80,271.15 371.19,270.79 372.59,270.42 373.98,270.06 375.37,269.70 376.76,269.35 378.16,268.99 379.55,268.64 380.94,268.29 382.33,267.94 383.73,267.60 385.12,267.25 386.51,266.91 387.90,266.57 389.30,266.23 390.69,265.89 392.08,265.56 393.48,265.23 394.87,264.89 396.26,264.56 397.65,264.24 399.04,263.91 400.44,263.59 401.83,263.26 403.22,262.94 404.62,262.62 406.01,262.30 407.40,261.99" stroke="#000" stroke-width="2.45" stroke-dasharray="5.9 3.85" stroke-dashoffset="0"/>
<polyline points="240.30,349.45 240.63,349.36 240.97,349.23 241.30,349.09 241.64,348.94 241.97,348.78 242.31,348.61 242.64,348.43 242.97,348.25 243.31,348.07 243.64,347.88 244.48,347.39 245.87,346.55 247.26,345.69 248.66,344.80 250.05,343.91 251.44,343.02 252.83,342.12 254.23,341.23 255.62,340.34 257.01,339.46 258.40,338.59 259.80,337.72 261.19,336.86 262.58,336.02 263.97,335.18 265.37,334.35 266.76,333.53 268.15,332.72 269.54,331.93 270.94,331.14 272.33,330.36 273.72,329.60 275.11,328.84 276.50,328.09 277.90,327.36 279.29,326.63 280.68,325.92 282.07,325.21 283.47,324.51 284.86,323.83 286.25,323.15 287.64,322.48 289.04,321.82 290.43,321.17 291.82,320.52 293.22,319.89 294.61,319.26 296.00,318.64 297.39,318.03 298.78,317.43 300.18,316.84 301.57,316.25 302.96,315.67 304.36,315.09 305.75,314.53 307.14,313.97 308.53,313.41 309.93,312.87 311.32,312.33 312.71,311.79 314.10,311.27 315.50,310.75 316.89,310.23 318.28,309.72 319.67,309.22 321.06,308.72 322.46,308.23 323.85,307.74 325.24,307.26 326.63,306.78 328.03,306.31 329.42,305.84 330.81,305.38 332.20,304.92 333.60,304.47 334.99,304.02 336.38,303.58 337.77,303.14 339.17,302.71 340.56,302.28 341.95,301.85 343.35,301.43 344.74,301.02 346.13,300.60 347.52,300.19 348.91,299.79 350.31,299.39 351.70,298.99 353.09,298.59 354.49,298.20 355.88,297.82 357.27,297.43 358.66,297.05 360.06,296.68 361.45,296.30 362.84,295.93 364.23,295.56 365.62,295.20 367.02,294.84 368.41,294.48 369.80,294.13 371.19,293.78 372.59,293.43 373.98,293.08 375.37,292.74 376.76,292.40 378.16,292.06 379.55,291.73 380.94,291.39 382.33,291.06 383.73,290.74 385.12,290.41 386.51,290.09 387.90,289.77 389.30,289.45 390.69,289.14 392.08,288.83 393.48,288.52 394.87,288.21 396.26,287.90 397.65,287.60 399.04,287.30 400.44,287.00 401.83,286.70 403.22,286.41 404.62,286.12 406.01,285.83 407.40,285.54" stroke="#000" stroke-width="2.45" stroke-dasharray="5.9 3.85" stroke-dashoffset="0"/>
<polyline points="240.30,349.45 240.63,347.31 240.97,345.73 241.30,344.42 241.64,343.29 241.97,342.28 242.31,341.35 242.64,340.50 242.97,339.71 243.31,338.97 243.64,338.27 244.48,336.65 245.87,334.30 247.26,332.25 248.66,330.40 250.05,328.72 251.44,327.16 252.83,325.71 254.23,324.34 255.62,323.05 257.01,321.82 258.40,320.64 259.80,319.51 261.19,318.43 262.58,317.39 263.97,316.38 265.37,315.40 266.76,314.46 268.15,313.54 269.54,312.64 270.94,311.77 272.33,310.92 273.72,310.10 275.11,309.29 276.50,308.50 277.90,307.72 279.29,306.96 280.68,306.22 282.07,305.49 283.47,304.77 284.86,304.07 286.25,303.38 287.64,302.70 289.04,302.03 290.43,301.37 291.82,300.73 293.22,300.09 294.61,299.46 296.00,298.84 297.39,298.23 298.78,297.63 300.18,297.03 301.57,296.45 302.96,295.87 304.36,295.29 305.75,294.73 307.14,294.17 308.53,293.62 309.93,293.07 311.32,292.53 312.71,292.00 314.10,291.47 315.50,290.95 316.89,290.43 318.28,289.92 319.67,289.41 321.06,288.91 322.46,288.41 323.85,287.92 325.24,287.43 326.63,286.95 328.03,286.47 329.42,285.99 330.81,285.52 332.20,285.05 333.60,284.59 334.99,284.13 336.38,283.68 337.77,283.23 339.17,282.78 340.56,282.33 341.95,281.89 343.35,281.46 344.74,281.02 346.13,280.59 347.52,280.16 348.91,279.74 350.31,279.32 351.70,278.90 353.09,278.48 354.49,278.07 355.88,277.66 357.27,277.25 358.66,276.85 360.06,276.45 361.45,276.05 362.84,275.65 364.23,275.26 365.62,274.87 367.02,274.48 368.41,274.09 369.80,273.71 371.19,273.32 372.59,272.94 373.98,272.57 375.37,272.19 376.76,271.82 378.16,271.45 379.55,271.08 380.94,270.71 382.33,270.34 383.73,269.98 385.12,269.62 386.51,269.26 387.90,268.91 389.30,268.55 390.69,268.20 392.08,267.85 393.48,267.50 394.87,267.15 396.26,266.80 397.65,266.46 399.04,266.11 400.44,265.77 401.83,265.43 403.22,265.10 404.62,264.76 406.01,264.43 407.40,264.09" stroke="#0000ff" stroke-width="2.2"/>
<polyline points="240.30,349.45 240.63,349.22 240.97,348.98 241.30,348.73 241.64,348.48 241.97,348.24 242.31,347.99 242.64,347.74 242.97,347.49 243.31,347.24 243.64,346.99 244.48,346.37 245.87,345.33 247.26,344.31 248.66,343.30 250.05,342.31 251.44,341.33 252.83,340.36 254.23,339.40 255.62,338.46 257.01,337.53 258.40,336.62 259.80,335.72 261.19,334.83 262.58,333.96 263.97,333.10 265.37,332.25 266.76,331.41 268.15,330.59 269.54,329.78 270.94,328.98 272.33,328.19 273.72,327.42 275.11,326.65 276.50,325.90 277.90,325.16 279.29,324.42 280.68,323.70 282.07,322.99 283.47,322.29 284.86,321.60 286.25,320.92 287.64,320.24 289.04,319.58 290.43,318.92 291.82,318.28 293.22,317.64 294.61,317.01 296.00,316.39 297.39,315.78 298.78,315.18 300.18,314.58 301.57,313.99 302.96,313.41 304.36,312.84 305.75,312.27 307.14,311.71 308.53,311.16 309.93,310.62 311.32,310.08 312.71,309.55 314.10,309.02 315.50,308.51 316.89,307.99 318.28,307.49 319.67,306.99 321.06,306.49 322.46,306.00 323.85,305.52 325.24,305.05 326.63,304.57 328.03,304.11 329.42,303.65 330.81,303.19 332.20,302.74 333.60,302.30 334.99,301.86 336.38,301.42 337.77,300.99 339.17,300.57 340.56,300.15 341.95,299.73 343.35,299.32 344.74,298.91 346.13,298.51 347.52,298.11 348.91,297.71 350.31,297.32 351.70,296.94 353.09,296.56 354.49,296.18 355.88,295.80 357.27,295.43 358.66,295.07 360.06,294.70 361.45,294.34 362.84,293.99 364.23,293.64 365.62,293.29 367.02,292.94 368.41,292.60 369.80,292.26 371.19,291.93 372.59,291.59 373.98,291.26 375.37,290.94 376.76,290.62 378.16,290.30 379.55,289.98 380.94,289.67 382.33,289.36 383.73,289.05 385.12,288.74 386.51,288.44 387.90,288.14 389.30,287.85 390.69,287.55 392.08,287.26 393.48,286.97 394.87,286.69 396.26,286.40 397.65,286.12 399.04,285.84 400.44,285.57 401.83,285.29 403.22,285.02 404.62,284.75 406.01,284.49 407.40,284.22" stroke="#ff0000" stroke-width="2.2"/>
</g>
</g>
<g>
<rect x="33.5" y="0.3" width="167.05" height="103" fill="none" stroke="#8f8f8f" stroke-width="0.9"/>
<path d="M41.85 103.3v-1.4M41.85 0.3v1.4M50.2 103.3v-1.4M50.2 0.3v1.4M58.56 103.3v-1.4M58.56 0.3v1.4M66.91 103.3v-2.4M66.91 0.3v2.4M75.26 103.3v-1.4M75.26 0.3v1.4M83.62 103.3v-1.4M83.62 0.3v1.4M91.97 103.3v-1.4M91.97 0.3v1.4M100.32 103.3v-2.4M100.32 0.3v2.4M108.67 103.3v-1.4M108.67 0.3v1.4M117.03 103.3v-1.4M117.03 0.3v1.4M125.38 103.3v-1.4M125.38 0.3v1.4M133.73 103.3v-2.4M133.73 0.3v2.4M142.08 103.3v-1.4M142.08 0.3v1.4M150.44 103.3v-1.4M150.44 0.3v1.4M158.79 103.3v-1.4M158.79 0.3v1.4M167.14 103.3v-2.4M167.14 0.3v2.4M175.49 103.3v-1.4M175.49 0.3v1.4M183.84 103.3v-1.4M183.84 0.3v1.4M192.2 103.3v-1.4M192.2 0.3v1.4M33.5 98.3h2.4M200.55 98.3h-2.4M33.5 92.71h1.4M200.55 92.71h-1.4M33.5 87.13h1.4M200.55 87.13h-1.4M33.5 81.54h1.4M200.55 81.54h-1.4M33.5 75.95h1.4M200.55 75.95h-1.4M33.5 70.37h2.4M200.55 70.37h-2.4M33.5 64.78h1.4M200.55 64.78h-1.4M33.5 59.19h1.4M200.55 59.19h-1.4M33.5 53.61h1.4M200.55 53.61h-1.4M33.5 48.02h1.4M200.55 48.02h-1.4M33.5 42.43h2.4M200.55 42.43h-2.4M33.5 36.85h1.4M200.55 36.85h-1.4M33.5 31.26h1.4M200.55 31.26h-1.4M33.5 25.67h1.4M200.55 25.67h-1.4M33.5 20.09h1.4M200.55 20.09h-1.4M33.5 14.5h2.4M200.55 14.5h-2.4M33.5 8.91h1.4M200.55 8.91h-1.4M33.5 3.33h1.4M200.55 3.33h-1.4" stroke="#7a7a7a" stroke-width="0.6" fill="none"/>
<rect x="240.2" y="0.3" width="166.3" height="102.9" fill="none" stroke="#8f8f8f" stroke-width="0.9"/>
<path d="M248.51 103.2v-1.4M248.51 0.3v1.4M256.83 103.2v-1.4M256.83 0.3v1.4M265.14 103.2v-1.4M265.14 0.3v1.4M273.46 103.2v-2.4M273.46 0.3v2.4M281.77 103.2v-1.4M281.77 0.3v1.4M290.09 103.2v-1.4M290.09 0.3v1.4M298.4 103.2v-1.4M298.4 0.3v1.4M306.72 103.2v-2.4M306.72 0.3v2.4M315.03 103.2v-1.4M315.03 0.3v1.4M323.35 103.2v-1.4M323.35 0.3v1.4M331.66 103.2v-1.4M331.66 0.3v1.4M339.98 103.2v-2.4M339.98 0.3v2.4M348.29 103.2v-1.4M348.29 0.3v1.4M356.61 103.2v-1.4M356.61 0.3v1.4M364.93 103.2v-1.4M364.93 0.3v1.4M373.24 103.2v-2.4M373.24 0.3v2.4M381.55 103.2v-1.4M381.55 0.3v1.4M389.87 103.2v-1.4M389.87 0.3v1.4M398.19 103.2v-1.4M398.19 0.3v1.4M240.2 98.6h1.4M406.5 98.6h-1.4M240.2 94.3h2.4M406.5 94.3h-2.4M240.2 89.99h1.4M406.5 89.99h-1.4M240.2 85.69h1.4M406.5 85.69h-1.4M240.2 81.38h1.4M406.5 81.38h-1.4M240.2 77.08h2.4M406.5 77.08h-2.4M240.2 72.78h1.4M406.5 72.78h-1.4M240.2 68.47h1.4M406.5 68.47h-1.4M240.2 64.16h1.4M406.5 64.16h-1.4M240.2 59.86h2.4M406.5 59.86h-2.4M240.2 55.55h1.4M406.5 55.55h-1.4M240.2 51.25h1.4M406.5 51.25h-1.4M240.2 46.94h1.4M406.5 46.94h-1.4M240.2 42.64h2.4M406.5 42.64h-2.4M240.2 38.33h1.4M406.5 38.33h-1.4M240.2 34.03h1.4M406.5 34.03h-1.4M240.2 29.73h1.4M406.5 29.73h-1.4M240.2 25.42h2.4M406.5 25.42h-2.4M240.2 21.11h1.4M406.5 21.11h-1.4M240.2 16.81h1.4M406.5 16.81h-1.4M240.2 12.5h1.4M406.5 12.5h-1.4M240.2 8.2h2.4M406.5 8.2h-2.4M240.2 3.89h1.4M406.5 3.89h-1.4" stroke="#7a7a7a" stroke-width="0.6" fill="none"/>
<rect x="33.4" y="128.9" width="167.1" height="102.5" fill="none" stroke="#8f8f8f" stroke-width="0.9"/>
<path d="M41.75 231.4v-1.4M41.75 128.9v1.4M50.11 231.4v-1.4M50.11 128.9v1.4M58.47 231.4v-1.4M58.47 128.9v1.4M66.82 231.4v-2.4M66.82 128.9v2.4M75.17 231.4v-1.4M75.17 128.9v1.4M83.53 231.4v-1.4M83.53 128.9v1.4M91.88 231.4v-1.4M91.88 128.9v1.4M100.24 231.4v-2.4M100.24 128.9v2.4M108.59 231.4v-1.4M108.59 128.9v1.4M116.95 231.4v-1.4M116.95 128.9v1.4M125.31 231.4v-1.4M125.31 128.9v1.4M133.66 231.4v-2.4M133.66 128.9v2.4M142.02 231.4v-1.4M142.02 128.9v1.4M150.37 231.4v-1.4M150.37 128.9v1.4M158.72 231.4v-1.4M158.72 128.9v1.4M167.08 231.4v-2.4M167.08 128.9v2.4M175.44 231.4v-1.4M175.44 128.9v1.4M183.79 231.4v-1.4M183.79 128.9v1.4M192.15 231.4v-1.4M192.15 128.9v1.4M33.4 230.12h1.4M200.5 230.12h-1.4M33.4 226.56h1.4M200.5 226.56h-1.4M33.4 223h2.4M200.5 223h-2.4M33.4 219.44h1.4M200.5 219.44h-1.4M33.4 215.88h1.4M200.5 215.88h-1.4M33.4 212.31h1.4M200.5 212.31h-1.4M33.4 208.75h2.4M200.5 208.75h-2.4M33.4 205.19h1.4M200.5 205.19h-1.4M33.4 201.62h1.4M200.5 201.62h-1.4M33.4 198.06h1.4M200.5 198.06h-1.4M33.4 194.5h2.4M200.5 194.5h-2.4M33.4 190.94h1.4M200.5 190.94h-1.4M33.4 187.38h1.4M200.5 187.38h-1.4M33.4 183.81h1.4M200.5 183.81h-1.4M33.4 180.25h2.4M200.5 180.25h-2.4M33.4 176.69h1.4M200.5 176.69h-1.4M33.4 173.12h1.4M200.5 173.12h-1.4M33.4 169.56h1.4M200.5 169.56h-1.4M33.4 166h2.4M200.5 166h-2.4M33.4 162.44h1.4M200.5 162.44h-1.4M33.4 158.88h1.4M200.5 158.88h-1.4M33.4 155.31h1.4M200.5 155.31h-1.4M33.4 151.75h2.4M200.5 151.75h-2.4M33.4 148.19h1.4M200.5 148.19h-1.4M33.4 144.62h1.4M200.5 144.62h-1.4M33.4 141.06h1.4M200.5 141.06h-1.4M33.4 137.5h2.4M200.5 137.5h-2.4M33.4 133.94h1.4M200.5 133.94h-1.4M33.4 130.38h1.4M200.5 130.38h-1.4" stroke="#7a7a7a" stroke-width="0.6" fill="none"/>
<rect x="241.4" y="130.8" width="164.8" height="101.1" fill="none" stroke="#8f8f8f" stroke-width="0.9"/>
<path d="M249.64 231.9v-1.4M249.64 130.8v1.4M257.88 231.9v-1.4M257.88 130.8v1.4M266.12 231.9v-1.4M266.12 130.8v1.4M274.36 231.9v-2.4M274.36 130.8v2.4M282.6 231.9v-1.4M282.6 130.8v1.4M290.84 231.9v-1.4M290.84 130.8v1.4M299.08 231.9v-1.4M299.08 130.8v1.4M307.32 231.9v-2.4M307.32 130.8v2.4M315.56 231.9v-1.4M315.56 130.8v1.4M323.8 231.9v-1.4M323.8 130.8v1.4M332.04 231.9v-1.4M332.04 130.8v1.4M340.28 231.9v-2.4M340.28 130.8v2.4M348.52 231.9v-1.4M348.52 130.8v1.4M356.76 231.9v-1.4M356.76 130.8v1.4M365 231.9v-1.4M365 130.8v1.4M373.24 231.9v-2.4M373.24 130.8v2.4M381.48 231.9v-1.4M381.48 130.8v1.4M389.72 231.9v-1.4M389.72 130.8v1.4M397.96 231.9v-1.4M397.96 130.8v1.4M241.4 230.86h1.4M406.2 230.86h-1.4M241.4 227.23h1.4M406.2 227.23h-1.4M241.4 223.6h2.4M406.2 223.6h-2.4M241.4 219.97h1.4M406.2 219.97h-1.4M241.4 216.34h1.4M406.2 216.34h-1.4M241.4 212.72h1.4M406.2 212.72h-1.4M241.4 209.09h1.4M406.2 209.09h-1.4M241.4 205.46h2.4M406.2 205.46h-2.4M241.4 201.83h1.4M406.2 201.83h-1.4M241.4 198.2h1.4M406.2 198.2h-1.4M241.4 194.58h1.4M406.2 194.58h-1.4M241.4 190.95h1.4M406.2 190.95h-1.4M241.4 187.32h2.4M406.2 187.32h-2.4M241.4 183.69h1.4M406.2 183.69h-1.4M241.4 180.06h1.4M406.2 180.06h-1.4M241.4 176.44h1.4M406.2 176.44h-1.4M241.4 172.81h1.4M406.2 172.81h-1.4M241.4 169.18h2.4M406.2 169.18h-2.4M241.4 165.55h1.4M406.2 165.55h-1.4M241.4 161.92h1.4M406.2 161.92h-1.4M241.4 158.3h1.4M406.2 158.3h-1.4M241.4 154.67h1.4M406.2 154.67h-1.4M241.4 151.04h2.4M406.2 151.04h-2.4M241.4 147.41h1.4M406.2 147.41h-1.4M241.4 143.78h1.4M406.2 143.78h-1.4M241.4 140.16h1.4M406.2 140.16h-1.4M241.4 136.53h1.4M406.2 136.53h-1.4M241.4 132.9h2.4M406.2 132.9h-2.4" stroke="#7a7a7a" stroke-width="0.6" fill="none"/>
<rect x="34.4" y="259.3" width="163.2" height="100.8" fill="none" stroke="#8f8f8f" stroke-width="0.9"/>
<path d="M42.56 360.1v-1.4M42.56 259.3v1.4M50.72 360.1v-1.4M50.72 259.3v1.4M58.88 360.1v-1.4M58.88 259.3v1.4M67.04 360.1v-2.4M67.04 259.3v2.4M75.2 360.1v-1.4M75.2 259.3v1.4M83.36 360.1v-1.4M83.36 259.3v1.4M91.52 360.1v-1.4M91.52 259.3v1.4M99.68 360.1v-2.4M99.68 259.3v2.4M107.84 360.1v-1.4M107.84 259.3v1.4M116 360.1v-1.4M116 259.3v1.4M124.16 360.1v-1.4M124.16 259.3v1.4M132.32 360.1v-2.4M132.32 259.3v2.4M140.48 360.1v-1.4M140.48 259.3v1.4M148.64 360.1v-1.4M148.64 259.3v1.4M156.8 360.1v-1.4M156.8 259.3v1.4M164.96 360.1v-2.4M164.96 259.3v2.4M173.12 360.1v-1.4M173.12 259.3v1.4M181.28 360.1v-1.4M181.28 259.3v1.4M189.44 360.1v-1.4M189.44 259.3v1.4M34.4 357.04h1.4M197.6 357.04h-1.4M34.4 354.42h1.4M197.6 354.42h-1.4M34.4 351.8h2.4M197.6 351.8h-2.4M34.4 349.18h1.4M197.6 349.18h-1.4M34.4 346.56h1.4M197.6 346.56h-1.4M34.4 343.94h1.4M197.6 343.94h-1.4M34.4 341.32h1.4M197.6 341.32h-1.4M34.4 338.7h2.4M197.6 338.7h-2.4M34.4 336.08h1.4M197.6 336.08h-1.4M34.4 333.46h1.4M197.6 333.46h-1.4M34.4 330.84h1.4M197.6 330.84h-1.4M34.4 328.22h1.4M197.6 328.22h-1.4M34.4 325.6h2.4M197.6 325.6h-2.4M34.4 322.98h1.4M197.6 322.98h-1.4M34.4 320.36h1.4M197.6 320.36h-1.4M34.4 317.74h1.4M197.6 317.74h-1.4M34.4 315.12h1.4M197.6 315.12h-1.4M34.4 312.5h2.4M197.6 312.5h-2.4M34.4 309.88h1.4M197.6 309.88h-1.4M34.4 307.26h1.4M197.6 307.26h-1.4M34.4 304.64h1.4M197.6 304.64h-1.4M34.4 302.02h1.4M197.6 302.02h-1.4M34.4 299.4h2.4M197.6 299.4h-2.4M34.4 296.78h1.4M197.6 296.78h-1.4M34.4 294.16h1.4M197.6 294.16h-1.4M34.4 291.54h1.4M197.6 291.54h-1.4M34.4 288.92h1.4M197.6 288.92h-1.4M34.4 286.3h2.4M197.6 286.3h-2.4M34.4 283.68h1.4M197.6 283.68h-1.4M34.4 281.06h1.4M197.6 281.06h-1.4M34.4 278.44h1.4M197.6 278.44h-1.4M34.4 275.82h1.4M197.6 275.82h-1.4M34.4 273.2h2.4M197.6 273.2h-2.4M34.4 270.58h1.4M197.6 270.58h-1.4M34.4 267.96h1.4M197.6 267.96h-1.4M34.4 265.34h1.4M197.6 265.34h-1.4M34.4 262.72h1.4M197.6 262.72h-1.4M34.4 260.1h2.4M197.6 260.1h-2.4" stroke="#7a7a7a" stroke-width="0.6" fill="none"/>
<rect x="240.3" y="256.3" width="167.1" height="102.85" fill="none" stroke="#8f8f8f" stroke-width="0.9"/>
<path d="M248.66 359.15v-1.4M248.66 256.3v1.4M257.01 359.15v-1.4M257.01 256.3v1.4M265.37 359.15v-1.4M265.37 256.3v1.4M273.72 359.15v-2.4M273.72 256.3v2.4M282.07 359.15v-1.4M282.07 256.3v1.4M290.43 359.15v-1.4M290.43 256.3v1.4M298.78 359.15v-1.4M298.78 256.3v1.4M307.14 359.15v-2.4M307.14 256.3v2.4M315.5 359.15v-1.4M315.5 256.3v1.4M323.85 359.15v-1.4M323.85 256.3v1.4M332.2 359.15v-1.4M332.2 256.3v1.4M340.56 359.15v-2.4M340.56 256.3v2.4M348.91 359.15v-1.4M348.91 256.3v1.4M357.27 359.15v-1.4M357.27 256.3v1.4M365.62 359.15v-1.4M365.62 256.3v1.4M373.98 359.15v-2.4M373.98 256.3v2.4M382.33 359.15v-1.4M382.33 256.3v1.4M390.69 359.15v-1.4M390.69 256.3v1.4M399.04 359.15v-1.4M399.04 256.3v1.4M240.3 354.1h2.4M407.4 354.1h-2.4M240.3 349.46h1.4M407.4 349.46h-1.4M240.3 344.81h1.4M407.4 344.81h-1.4M240.3 340.17h1.4M407.4 340.17h-1.4M240.3 335.52h1.4M407.4 335.52h-1.4M240.3 330.88h2.4M407.4 330.88h-2.4M240.3 326.23h1.4M407.4 326.23h-1.4M240.3 321.59h1.4M407.4 321.59h-1.4M240.3 316.94h1.4M407.4 316.94h-1.4M240.3 312.3h1.4M407.4 312.3h-1.4M240.3 307.65h2.4M407.4 307.65h-2.4M240.3 303h1.4M407.4 303h-1.4M240.3 298.36h1.4M407.4 298.36h-1.4M240.3 293.71h1.4M407.4 293.71h-1.4M240.3 289.07h1.4M407.4 289.07h-1.4M240.3 284.43h2.4M407.4 284.43h-2.4M240.3 279.78h1.4M407.4 279.78h-1.4M240.3 275.13h1.4M407.4 275.13h-1.4M240.3 270.49h1.4M407.4 270.49h-1.4M240.3 265.85h1.4M407.4 265.85h-1.4M240.3 261.2h2.4M407.4 261.2h-2.4" stroke="#7a7a7a" stroke-width="0.6" fill="none"/>
</g>
<g filter="url(#softt)" text-rendering="geometricPrecision">
<g font-family="'Liberation Sans', sans-serif" font-size="10.0" fill="#000" stroke="#000" stroke-width="0.15">
<text x="33.5" y="112.2" text-anchor="middle">0</text>
<text x="66.91" y="112.2" text-anchor="middle">20</text>
<text x="100.32" y="112.2" text-anchor="middle">40</text>
<text x="133.73" y="112.2" text-anchor="middle">60</text>
<text x="167.14" y="112.2" text-anchor="middle">80</text>
<text x="200.55" y="112.2" text-anchor="middle">100</text>
<text x="31.6" y="101.3" text-anchor="end">1.00</text>
<text x="31.6" y="73.37" text-anchor="end">1.05</text>
<text x="31.6" y="45.43" text-anchor="end">1.10</text>
<text x="31.6" y="17.5" text-anchor="end">1.15</text>
</g>
<text x="106.3" y="121.9" font-family="'Liberation Serif', serif" font-style="italic" font-size="15.6" text-anchor="middle" fill="#3a3a3a">x</text>
<g font-family="'Liberation Serif', serif" font-size="8.8" fill="#444">
<text transform="translate(7.3 95.9) rotate(-90)" textLength="38.6" lengthAdjust="spacingAndGlyphs">eff. temp.</text>
<text transform="translate(7.3 54.5) rotate(-90)" textLength="51.3" lengthAdjust="spacingAndGlyphs" xml:space="preserve">(<tspan font-style="italic">k</tspan><tspan font-size="5" dy="1.3">B</tspan><tspan font-style="italic" dy="-1.3">T</tspan>(<tspan font-style="italic">x</tspan> <tspan font-size="12" dy="1">=</tspan><tspan dy="-1"> 0))</tspan></text>
</g>
<g font-family="'Liberation Serif', serif" fill="#2a2a2a">
<text x="41.2" y="12.3" font-size="11" font-style="italic">N<tspan font-style="normal" font-size="7.4" dy="1.5" dx="0.2">b</tspan></text>
<path d="M40.9 14.3h12.6" stroke="#2a2a2a" stroke-width="0.6"/>
<text x="42.2" y="21.9" font-size="11" font-style="italic">ρ<tspan font-size="7.6" dy="1.4" dx="0.3">o</tspan></text>
<path d="M58.7 12.3h10M58.7 16h10" stroke="#2a2a2a" stroke-width="0.7"/>
<path d="M58.7 29.6h10M58.7 33.4h10" stroke="#2a2a2a" stroke-width="0.7"/>
<text x="72.3" y="18.2" font-size="14.4" letter-spacing="0.7">0.1</text>
<text x="72.3" y="35.7" font-size="14.4" letter-spacing="0.7">0.1</text>
<text x="46.8" y="35.3" font-size="15.5" font-style="italic">η</text>
</g>
<g font-family="'Liberation Sans', sans-serif" font-size="10.0" fill="#000" stroke="#000" stroke-width="0.15">
<text x="240.2" y="112.2" text-anchor="middle">0</text>
<text x="273.46" y="112.2" text-anchor="middle">20</text>
<text x="306.72" y="112.2" text-anchor="middle">40</text>
<text x="339.98" y="112.2" text-anchor="middle">60</text>
<text x="373.24" y="112.2" text-anchor="middle">80</text>
<text x="406.5" y="112.2" text-anchor="middle">100</text>
<text x="238.3" y="97.3" text-anchor="end">1.0</text>
<text x="238.3" y="80.08" text-anchor="end">1.2</text>
<text x="238.3" y="62.86" text-anchor="end">1.4</text>
<text x="238.3" y="45.64" text-anchor="end">1.6</text>
<text x="238.3" y="28.42" text-anchor="end">1.8</text>
<text x="238.3" y="11.2" text-anchor="end">2.0</text>
</g>
<text x="318.9" y="122" font-family="'Liberation Serif', serif" font-style="italic" font-size="15.6" text-anchor="middle" fill="#3a3a3a">x</text>
<g font-family="'Liberation Serif', serif" font-size="8.8" fill="#444">
<text transform="translate(219.1 96.2) rotate(-90)" textLength="38.6" lengthAdjust="spacingAndGlyphs">eff. temp.</text>
<text transform="translate(219.1 54.8) rotate(-90)" textLength="51.3" lengthAdjust="spacingAndGlyphs" xml:space="preserve">(<tspan font-style="italic">k</tspan><tspan font-size="5" dy="1.3">B</tspan><tspan font-style="italic" dy="-1.3">T</tspan>(<tspan font-style="italic">x</tspan> <tspan font-size="12" dy="1">=</tspan><tspan dy="-1"> 0))</tspan></text>
</g>
<g font-family="'Liberation Serif', serif" fill="#2a2a2a">
<text x="247.1" y="12.5" font-size="11" font-style="italic">N<tspan font-style="normal" font-size="7.4" dy="1.5" dx="0.2">b</tspan></text>
<path d="M246.8 14.3h12.6" stroke="#2a2a2a" stroke-width="0.6"/>
<text x="248.1" y="21.9" font-size="11" font-style="italic">ρ<tspan font-size="7.6" dy="1.4" dx="0.3">o</tspan></text>
<path d="M265.4 12.3h10M265.4 16h10" stroke="#2a2a2a" stroke-width="0.7"/>
<path d="M265.4 30h10M265.4 33.7h10" stroke="#2a2a2a" stroke-width="0.7"/>
<text x="279" y="18.2" font-size="14.4" letter-spacing="0.7">0.1</text>
<text x="279.9" y="35.7" font-size="14.4" letter-spacing="0.7">1</text>
<text x="253.8" y="36.2" font-size="15.5" font-style="italic">η</text>
</g>
<g font-family="'Liberation Sans', sans-serif" font-size="10.0" fill="#000" stroke="#000" stroke-width="0.15">
<text x="33.4" y="240.9" text-anchor="middle">0</text>
<text x="66.82" y="240.9" text-anchor="middle">20</text>
<text x="100.24" y="240.9" text-anchor="middle">40</text>
<text x="133.66" y="240.9" text-anchor="middle">60</text>
<text x="167.08" y="240.9" text-anchor="middle">80</text>
<text x="200.5" y="240.9" text-anchor="middle">100</text>
<text x="31.5" y="226" text-anchor="end">1.0</text>
<text x="31.5" y="211.75" text-anchor="end">1.2</text>
<text x="31.5" y="197.5" text-anchor="end">1.4</text>
<text x="31.5" y="183.25" text-anchor="end">1.6</text>
<text x="31.5" y="169" text-anchor="end">1.8</text>
<text x="31.5" y="154.75" text-anchor="end">2.0</text>
<text x="31.5" y="140.5" text-anchor="end">2.2</text>
</g>
<text x="112.5" y="250" font-family="'Liberation Serif', serif" font-style="italic" font-size="15.6" text-anchor="middle" fill="#3a3a3a">x</text>
<g font-family="'Liberation Serif', serif" font-size="8.8" fill="#444">
<text transform="translate(13.2 224.7) rotate(-90)" textLength="38.6" lengthAdjust="spacingAndGlyphs">eff. temp.</text>
<text transform="translate(13.2 183.3) rotate(-90)" textLength="51.3" lengthAdjust="spacingAndGlyphs" xml:space="preserve">(<tspan font-style="italic">k</tspan><tspan font-size="5" dy="1.3">B</tspan><tspan font-style="italic" dy="-1.3">T</tspan>(<tspan font-style="italic">x</tspan> <tspan font-size="12" dy="1">=</tspan><tspan dy="-1"> 0))</tspan></text>
</g>
<g font-family="'Liberation Serif', serif" fill="#2a2a2a">
<text x="38.6" y="140.5" font-size="11" font-style="italic">N<tspan font-style="normal" font-size="7.4" dy="1.5" dx="0.2">b</tspan></text>
<path d="M38.3 142.5h12.6" stroke="#2a2a2a" stroke-width="0.6"/>
<text x="39.6" y="150.1" font-size="11" font-style="italic">ρ<tspan font-size="7.6" dy="1.4" dx="0.3">o</tspan></text>
<path d="M56.2 140.3h10M56.2 143.9h10" stroke="#2a2a2a" stroke-width="0.7"/>
<path d="M56.7 158h10M56.7 161.7h10" stroke="#2a2a2a" stroke-width="0.7"/>
<text x="70.7" y="146.2" font-size="14.4" letter-spacing="0.7">1</text>
<text x="69.8" y="164" font-size="14.4" letter-spacing="0.7">0.1</text>
<text x="44.5" y="163.8" font-size="15.5" font-style="italic">η</text>
</g>
<g font-family="'Liberation Sans', sans-serif" font-size="10.0" fill="#000" stroke="#000" stroke-width="0.15">
<text x="241.4" y="240.9" text-anchor="middle">0</text>
<text x="274.36" y="240.9" text-anchor="middle">20</text>
<text x="307.32" y="240.9" text-anchor="middle">40</text>
<text x="340.28" y="240.9" text-anchor="middle">60</text>
<text x="373.24" y="240.9" text-anchor="middle">80</text>
<text x="406.2" y="240.9" text-anchor="middle">100</text>
<text x="239.5" y="226.6" text-anchor="end">1</text>
<text x="239.5" y="208.46" text-anchor="end">2</text>
<text x="239.5" y="190.32" text-anchor="end">3</text>
<text x="239.5" y="172.18" text-anchor="end">4</text>
<text x="239.5" y="154.04" text-anchor="end">5</text>
<text x="239.5" y="135.9" text-anchor="end">6</text>
</g>
<text x="328.8" y="249.7" font-family="'Liberation Serif', serif" font-style="italic" font-size="15.6" text-anchor="middle" fill="#3a3a3a">x</text>
<g font-family="'Liberation Serif', serif" font-size="8.8" fill="#444">
<text transform="translate(229.7 225.1) rotate(-90)" textLength="38.6" lengthAdjust="spacingAndGlyphs">eff. temp.</text>
<text transform="translate(229.7 183.7) rotate(-90)" textLength="51.3" lengthAdjust="spacingAndGlyphs" xml:space="preserve">(<tspan font-style="italic">k</tspan><tspan font-size="5" dy="1.3">B</tspan><tspan font-style="italic" dy="-1.3">T</tspan>(<tspan font-style="italic">x</tspan> <tspan font-size="12" dy="1">=</tspan><tspan dy="-1"> 0))</tspan></text>
</g>
<g font-family="'Liberation Serif', serif" fill="#2a2a2a">
<text x="245.2" y="140.5" font-size="11" font-style="italic">N<tspan font-style="normal" font-size="7.4" dy="1.5" dx="0.2">b</tspan></text>
<path d="M244.9 142.3h12.6" stroke="#2a2a2a" stroke-width="0.6"/>
<text x="246.2" y="149.9" font-size="11" font-style="italic">ρ<tspan font-size="7.6" dy="1.4" dx="0.3">o</tspan></text>
<path d="M263 140.3h10M263 144h10" stroke="#2a2a2a" stroke-width="0.7"/>
<path d="M263.3 158h10M263.3 161.7h10" stroke="#2a2a2a" stroke-width="0.7"/>
<text x="277.7" y="146.2" font-size="14.4" letter-spacing="0.7">1</text>
<text x="277.7" y="163.7" font-size="14.4" letter-spacing="0.7">1</text>
<text x="251.5" y="163.9" font-size="15.5" font-style="italic">η</text>
</g>
<g font-family="'Liberation Sans', sans-serif" font-size="10.0" fill="#000" stroke="#000" stroke-width="0.15">
<text x="34.4" y="369.3" text-anchor="middle">0</text>
<text x="67.04" y="369.3" text-anchor="middle">20</text>
<text x="99.68" y="369.3" text-anchor="middle">40</text>
<text x="132.32" y="369.3" text-anchor="middle">60</text>
<text x="164.96" y="369.3" text-anchor="middle">80</text>
<text x="197.6" y="369.3" text-anchor="middle">100</text>
<text x="32.5" y="354.8" text-anchor="end">1</text>
<text x="32.5" y="341.7" text-anchor="end">2</text>
<text x="32.5" y="328.6" text-anchor="end">3</text>
<text x="32.5" y="315.5" text-anchor="end">4</text>
<text x="32.5" y="302.4" text-anchor="end">5</text>
<text x="32.5" y="289.3" text-anchor="end">6</text>
<text x="32.5" y="276.2" text-anchor="end">7</text>
<text x="32.5" y="263.1" text-anchor="end">8</text>
</g>
<text x="121.8" y="378" font-family="'Liberation Serif', serif" font-style="italic" font-size="15.6" text-anchor="middle" fill="#3a3a3a">x</text>
<g font-family="'Liberation Serif', serif" font-size="8.8" fill="#444">
<text transform="translate(21.9 352.5) rotate(-90)" textLength="38.6" lengthAdjust="spacingAndGlyphs">eff. temp.</text>
<text transform="translate(21.9 311.1) rotate(-90)" textLength="51.3" lengthAdjust="spacingAndGlyphs" xml:space="preserve">(<tspan font-style="italic">k</tspan><tspan font-size="5" dy="1.3">B</tspan><tspan font-style="italic" dy="-1.3">T</tspan>(<tspan font-style="italic">x</tspan> <tspan font-size="12" dy="1">=</tspan><tspan dy="-1"> 0))</tspan></text>
</g>
<g font-family="'Liberation Serif', serif" fill="#2a2a2a">
<text x="38.2" y="269.3" font-size="11" font-style="italic">N<tspan font-style="normal" font-size="7.4" dy="1.5" dx="0.2">b</tspan></text>
<path d="M37.9 272.2h12.6" stroke="#2a2a2a" stroke-width="0.6"/>
<text x="39.2" y="279.8" font-size="11" font-style="italic">ρ<tspan font-size="7.6" dy="1.4" dx="0.3">o</tspan></text>
<path d="M56 269.8h10M56 273.5h10" stroke="#2a2a2a" stroke-width="0.7"/>
<path d="M56.3 287.3h10M56.3 291.1h10" stroke="#2a2a2a" stroke-width="0.7"/>
<text x="70.3" y="275.9" font-size="14.4" letter-spacing="0.7">10</text>
<text x="70.3" y="293.4" font-size="14.4" letter-spacing="0.7">0.1</text>
<text x="44.1" y="293.4" font-size="15.5" font-style="italic">η</text>
</g>
<g font-family="'Liberation Sans', sans-serif" font-size="10.0" fill="#000" stroke="#000" stroke-width="0.15">
<text x="240.3" y="368.6" text-anchor="middle">0</text>
<text x="273.72" y="368.6" text-anchor="middle">20</text>
<text x="307.14" y="368.6" text-anchor="middle">40</text>
<text x="340.56" y="368.6" text-anchor="middle">60</text>
<text x="373.98" y="368.6" text-anchor="middle">80</text>
<text x="407.4" y="368.6" text-anchor="middle">100</text>
<text x="238.4" y="357.1" text-anchor="end">0</text>
<text x="238.4" y="333.88" text-anchor="end">5</text>
<text x="238.4" y="310.65" text-anchor="end">10</text>
<text x="238.4" y="287.43" text-anchor="end">15</text>
<text x="238.4" y="264.2" text-anchor="end">20</text>
</g>
<text x="322" y="378" font-family="'Liberation Serif', serif" font-style="italic" font-size="15.6" text-anchor="middle" fill="#3a3a3a">x</text>
<g font-family="'Liberation Serif', serif" font-size="8.8" fill="#444">
<text transform="translate(222.9 352.2) rotate(-90)" textLength="38.6" lengthAdjust="spacingAndGlyphs">eff. temp.</text>
<text transform="translate(222.9 310.8) rotate(-90)" textLength="51.3" lengthAdjust="spacingAndGlyphs" xml:space="preserve">(<tspan font-style="italic">k</tspan><tspan font-size="5" dy="1.3">B</tspan><tspan font-style="italic" dy="-1.3">T</tspan>(<tspan font-style="italic">x</tspan> <tspan font-size="12" dy="1">=</tspan><tspan dy="-1"> 0))</tspan></text>
</g>
<g font-family="'Liberation Serif', serif" fill="#2a2a2a">
<text x="244.7" y="268" font-size="11" font-style="italic">N<tspan font-style="normal" font-size="7.4" dy="1.5" dx="0.2">b</tspan></text>
<path d="M244.4 270.2h12.6" stroke="#2a2a2a" stroke-width="0.6"/>
<text x="245.7" y="277.8" font-size="11" font-style="italic">ρ<tspan font-size="7.6" dy="1.4" dx="0.3">o</tspan></text>
<path d="M262.7 268.2h10M262.7 271.9h10" stroke="#2a2a2a" stroke-width="0.7"/>
<path d="M262.7 286.4h10M262.7 290.1h10" stroke="#2a2a2a" stroke-width="0.7"/>
<text x="276.8" y="274.1" font-size="14.4" letter-spacing="0.7">10</text>
<text x="277.7" y="292.1" font-size="14.4" letter-spacing="0.7">1</text>
<text x="251" y="292.2" font-size="15.5" font-style="italic">η</text>
</g>
</g>
</svg>
</body></html>
